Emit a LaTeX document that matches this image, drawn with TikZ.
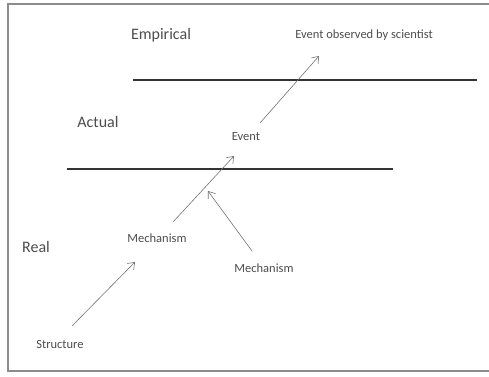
\documentclass[tikz,border=0pt]{standalone}
\usepackage{fontspec}
\setmainfont{Carlito}
\usetikzlibrary{arrows.meta}
\begin{document}
\begin{tikzpicture}[x=1pt,y=-1pt,
  big/.style={text=black!70, font=\fontsize{16}{18}\selectfont, inner sep=0pt},
  small/.style={text=black!70, font=\fontsize{12.5}{14}\selectfont, inner sep=0pt},
  level/.style={line width=2.2pt, black!80},
  arr/.style={draw=black!55, line width=0.6pt, -{Straight Barb[length=6pt,width=9pt,line width=0.6pt]}}]
\useasboundingbox (0,0) rectangle (489,376);
\begin{scope}
\clip (0,0) rectangle (489,376);
\draw[black!45, line width=2pt] (8,4) rectangle (520,371);
\end{scope}
\node[big] (emp) at (161,35) {Empirical};
\node[big] (act) at (98,122) {Actual};
\node[big] (real) at (36,247) {Real};
\node[small] (obs) at (364,35) {Event observed by scientist};
\node[small] (event) at (246,137) {Event};
\node[small] (mech1) at (157,238) {Mechanism};
\node[small] (mech2) at (264,268) {Mechanism};
\node[small] (struct) at (60,344) {Structure};
\coordinate (l1a) at (133,80);
\coordinate (l1b) at (477,80);
\coordinate (l2a) at (67,169);
\coordinate (l2b) at (393,169);
\draw[level] (l1a) -- (l1b);
\draw[level] (l2a) -- (l2b);
\coordinate (a1s) at (260,123);
\coordinate (a1e) at (319,56);
\coordinate (a2s) at (173,222);
\coordinate (a2e) at (234,156);
\coordinate (a3s) at (252,251);
\coordinate (a3e) at (208,191);
\coordinate (a4s) at (72,326);
\coordinate (a4e) at (135,262);
\draw[arr] (a1s) -- (a1e);
\draw[arr] (a2s) -- (a2e);
\draw[arr] (a3s) -- (a3e);
\draw[arr] (a4s) -- (a4e);
\end{tikzpicture}
\end{document}
